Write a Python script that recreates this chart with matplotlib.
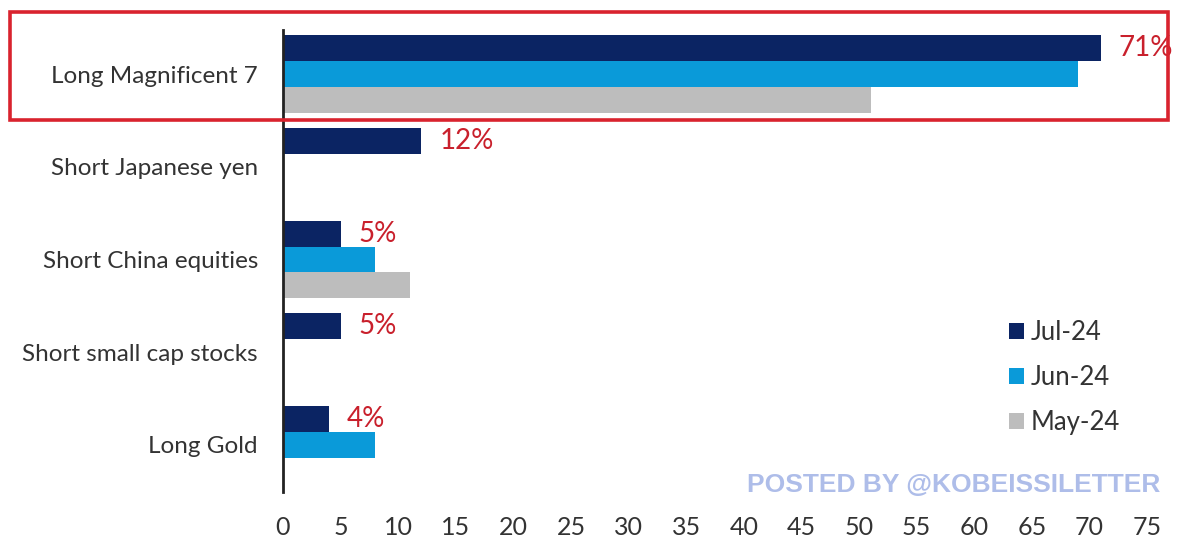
import matplotlib.pyplot as plt
from matplotlib.patches import Rectangle

plt.rcParams['font.family'] = ['Lato', 'DejaVu Sans']

# survey data: "most crowded trade" share of respondents
categories = ["Long Magnificent 7", "Short Japanese yen", "Short China equities",
              "Short small cap stocks", "Long Gold"]
jul_24 = [71, 12, 5, 5, 4]
jun_24 = [69, 0, 8, 0, 8]
may_24 = [51, 0, 11, 0, 0]
series_names = ["Jul-24", "Jun-24", "May-24"]
colors = ["#0b2463", "#0a9ad9", "#bdbdbd"]
xticks = list(range(0, 80, 5))

W, H = 1180, 542
fig = plt.figure(figsize=(W / 100, H / 100), dpi=100)
fig.patch.set_facecolor("white")

# axes placed in pixel terms
left, right, top, bottom = 283, 1147, 30, 492
ax = fig.add_axes([left / W, 1 - bottom / H, (right - left) / W, (bottom - top) / H])

bh = 0.28
ypos = list(range(len(categories)))
for k, (vals, name, c) in enumerate(zip([jul_24, jun_24, may_24], series_names, colors)):
    ys = [y + (k - 1) * bh for y in ypos]
    ax.barh(ys, vals, height=bh, color=c, label=name, zorder=2)

# value labels next to the latest bar
for y, v in zip(ypos, jul_24):
    ax.annotate(f"{v}%", xy=(v, y - bh), xytext=(18, 0), textcoords="offset pixels",
                ha="left", va="center", color="#c9202c", fontsize=20,
                annotation_clip=False)

ax.set_xlim(0, 75)
ax.set_ylim(4.507, -0.475)
ax.set_xticks(xticks)
ax.set_xticklabels([str(t) for t in xticks], fontsize=18, color="#333333")
ax.set_yticks(ypos)
ax.set_yticklabels(categories, fontsize=17.5, color="#333333")
ax.tick_params(axis="both", length=0)
ax.tick_params(axis="y", pad=18)
ax.tick_params(axis="x", pad=17)
for s in ["top", "right", "bottom"]:
    ax.spines[s].set_visible(False)
ax.spines["left"].set_linewidth(2)
ax.spines["left"].set_color("#222222")

leg = ax.legend(loc="upper left", bbox_to_anchor=(1009 / W, 1 - 320 / H),
                bbox_transform=fig.transFigure, frameon=False, fontsize=18.5,
                handlelength=0.6, handleheight=0.6, handletextpad=0.25,
                labelspacing=0.78, borderaxespad=0, borderpad=0)
for t in leg.get_texts():
    t.set_color("#333333")

# highlight box around the top row
fig.add_artist(Rectangle((10 / W, 1 - 120 / H), (1168 - 10) / W, (120 - 12) / H,
                         transform=fig.transFigure, fill=False,
                         edgecolor="#d9232e", linewidth=2.6))

fig.text(1160 / W, 1 - 485 / H, "POSTED BY @KOBEISSILETTER", ha="right", va="center",
         fontsize=19, fontweight="bold", color="#aebde9", family=["Liberation Sans", "DejaVu Sans"])

fig.savefig("out.png", dpi=100)
